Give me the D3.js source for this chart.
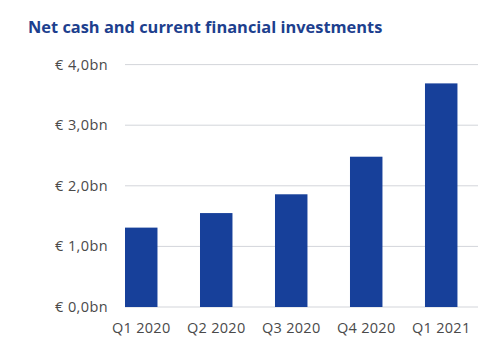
<!DOCTYPE html>
<html><head><meta charset="utf-8">
<script src="https://cdn.jsdelivr.net/npm/d3@7"></script>
<style>body{margin:0;background:#fff;} svg{display:block;}</style>
</head><body>
<script>
const categories = ["Q1 2020","Q2 2020","Q3 2020","Q4 2020","Q1 2021"];
const values = [1.31, 1.55, 1.86, 2.48, 3.69];
const tickValues = [0,1,2,3,4];
const tickLabels = ["€ 0,0bn","€ 1,0bn","€ 2,0bn","€ 3,0bn","€ 4,0bn"];
const title = "Net cash and current financial investments";

const W = 499, H = 345;
const svg = d3.select("body").append("svg").attr("width", W).attr("height", H);
const font = "'Open Sans', sans-serif";

svg.append("text").attr("x", 28).attr("y", 33)
  .attr("font-family", font).attr("font-weight", 700).attr("font-size", 16.4)
  .attr("fill", "#1d3f8e").text(title);

const x = d3.scaleBand().domain(categories).range([125, 478])
  .paddingInner(0.567).paddingOuter(0.137).align(0);
const y = d3.scaleLinear().domain([0, 4]).range([307, 64.6]);

// gridlines
svg.append("g").selectAll("line").data(tickValues).join("line")
  .attr("x1", 125).attr("x2", 478)
  .attr("y1", d => y(d)).attr("y2", d => y(d))
  .attr("stroke", "#d3d5da").attr("stroke-width", 1);

// y labels
svg.append("g").selectAll("text").data(tickValues).join("text")
  .attr("x", 108).attr("y", d => y(d)).attr("dy", "0.35em")
  .attr("text-anchor", "end").attr("font-family", font).attr("font-size", 14.5)
  .attr("letter-spacing", 0.4)
  .attr("fill", "#4a4a4a").text((d, i) => tickLabels[i]);

// bars
svg.append("g").selectAll("rect").data(values).join("rect")
  .attr("x", (d, i) => x(categories[i])).attr("width", x.bandwidth())
  .attr("y", d => y(d)).attr("height", d => y(0) - y(d))
  .attr("fill", "#17409a");

// x labels
svg.append("g").selectAll("text").data(categories).join("text")
  .attr("x", d => x(d) + x.bandwidth() / 2).attr("y", 328).attr("dy", "0.35em")
  .attr("text-anchor", "middle").attr("font-family", font).attr("font-size", 14.5)
  .attr("letter-spacing", 0.3)
  .attr("fill", "#4a4a4a").text(d => d);
</script>
</body></html>
